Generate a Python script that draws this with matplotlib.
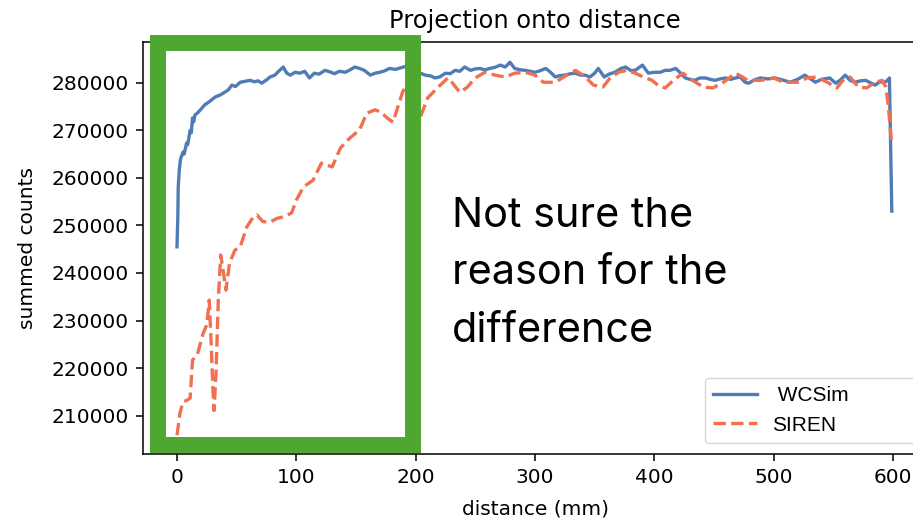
import matplotlib

matplotlib.use("Agg")
import matplotlib.pyplot as plt
from matplotlib.patches import Rectangle

# values
wcsim_x = [0, 0.7, 1, 2, 3, 5, 6, 8, 9, 11, 12, 13, 14, 15, 17, 20, 23, 27, 32, 36,
           40, 43, 46, 49, 53, 57, 61, 65, 68, 71, 75, 78, 82, 86, 89, 92, 95, 99,
           103, 107, 111, 115, 119, 124, 128, 132, 136, 141, 145, 149, 153, 157,
           162, 166, 170, 174, 178, 183, 187, 191, 195, 199, 204, 208, 213, 216,
           220, 225, 229, 233, 237, 241, 246, 250, 254, 258, 262, 266, 271, 275,
           279, 283, 288, 292, 296, 300, 304, 309, 313, 317, 321, 325, 330, 334,
           338, 342, 346, 350, 353, 358, 362, 367, 372, 376, 380, 384, 390, 395,
           400, 405, 409, 413, 418, 422, 426, 430, 434, 438, 443, 447, 451, 455,
           460, 464, 468, 472, 476, 479, 484, 489, 495, 501, 507, 514, 520, 526,
           531, 535, 540, 547, 552, 556, 560, 564, 568, 573, 577, 581, 585, 589,
           593, 596, 597, 599]
wcsim_y = [245500, 252000, 258000, 262000, 264000, 265400, 265000, 267300, 267000,
           270000, 269500, 272600, 271800, 273200, 273600, 274400, 275300, 276000,
           277000, 277400, 278000, 278500, 279500, 279200, 280100, 280300, 280500,
           280200, 280400, 279900, 280600, 281200, 281600, 282600, 283300, 282000,
           281600, 282200, 282000, 282400, 281000, 282000, 281800, 282600, 282300,
           281900, 282400, 282200, 282700, 283300, 283000, 282600, 281600, 282000,
           282200, 282500, 283000, 282800, 283100, 283400, 283200, 282900, 282000,
           281600, 281400, 281000, 281200, 282000, 281900, 282600, 282400, 283300,
           282600, 282900, 283000, 282700, 283000, 283200, 283700, 283300, 284300,
           283000, 282700, 282600, 282400, 282200, 282500, 283000, 282200, 281200,
           281500, 281600, 281900, 282000, 281600, 281600, 281200, 282000, 283000,
           281200, 281800, 282200, 283000, 283300, 282600, 282600, 283700, 282000,
           282200, 282200, 282600, 282600, 283000, 282000, 281000, 280700, 280500,
           281000, 281000, 280700, 280500, 280800, 281000, 280700, 281000, 281200,
           280100, 279900, 280600, 281000, 280800, 281000, 280600, 280100, 280700,
           281600, 280800, 280100, 280700, 281000, 279900, 280600, 281600, 280500,
           280100, 280400, 280500, 280000, 279500, 280200, 280100, 280600, 281000,
           253000]

siren_x = [0, 2.5, 5, 8, 11, 13, 17, 22, 25, 27, 28.5, 30, 31, 32.7, 34.6, 36.6, 39,
           41, 44, 48.5, 53, 58.5, 64, 67, 72, 78, 84, 89, 96, 100, 106, 114, 121,
           130, 137, 145, 153, 159, 166, 171, 176, 181, 189, 192, 197, 202, 204,
           210, 219, 227, 231, 237, 243, 250, 258, 266.5, 275, 283, 292, 300, 307,
           317, 324, 334, 340, 345, 349, 357, 363, 370, 377, 384, 391, 398, 403,
           409, 416, 424, 432, 441, 449, 458, 468, 474, 478, 489, 500, 508, 520,
           528, 536, 545, 553, 558, 564, 571, 578, 585, 591, 594, 596, 599]
siren_y = [205900, 210600, 212900, 213200, 213700, 221700, 222800, 227400, 229100,
           234300, 225900, 216000, 211100, 219000, 234300, 243800, 240000, 236400,
           242100, 244800, 245500, 249700, 251800, 252200, 250800, 250700, 251500,
           251800, 252600, 255300, 258100, 259500, 263100, 262300, 266300, 268400,
           270100, 273600, 274300, 273800, 272600, 271700, 278000, 279500, 276000,
           273000, 272800, 276800, 279100, 281000, 279900, 278000, 279000, 281000,
           282200, 281600, 281200, 282000, 282200, 281600, 280100, 280100, 281200,
           282600, 281600, 280500, 279500, 279100, 281000, 282200, 282600, 282000,
           281200, 280500, 279500, 278900, 280500, 282000, 280500, 279100, 278900,
           280100, 282000, 281200, 280500, 280500, 281000, 280100, 280100, 281000,
           281200, 280100, 278900, 280500, 281200, 279100, 278900, 280100, 280500,
           279100, 275300, 267000]

yticks = [210000, 220000, 230000, 240000, 250000, 260000, 270000, 280000]
xticks = [0, 100, 200, 300, 400, 500, 600]
note_lines = ["Not sure the", "reason for the", "difference"]

W, H = 913, 521
FS = 14.5

fig = plt.figure(figsize=(W / 100, H / 100), dpi=100)
# the right part of the axes runs past the picture edge, like the screenshot
ax = fig.add_axes([143 / W, 1 - 454 / H, 784 / W, 412 / H])

ax.plot(wcsim_x, wcsim_y, color="#4f7cb4", lw=2.4, label=" WCSim")
ax.plot(siren_x, siren_y, color="#f0704f", lw=2.4, ls="--", label="SIREN")

ax.set_xlim(-28.5, 628.5)
ax.set_ylim(201950, 288560)
ax.set_xticks(xticks)
ax.set_yticks(yticks)
ax.tick_params(labelsize=FS, length=5, width=1.1, pad=5)
for sp in ax.spines.values():
    sp.set_linewidth(1.1)

ax.set_title("Projection onto distance", fontsize=17.4, pad=10)
ax.set_xlabel("distance (mm)", fontsize=FS, labelpad=9)
ax.set_ylabel("summed counts", fontsize=FS, labelpad=10.5)

leg = ax.legend(
    loc="lower left",
    bbox_to_anchor=(705 / W, 1 - 443 / H, 0.32, 66 / H),
    bbox_transform=fig.transFigure,
    mode="expand",
    borderaxespad=0,
    handlelength=2.1,
    handletextpad=0.7,
    prop={"family": "Liberation Sans", "size": 15},
)

# green highlight box drawn on top of the figure
box = Rectangle(
    (158 / W, 1 - 444.5 / H),
    255 / W,
    401.5 / H,
    transform=fig.transFigure,
    fill=False,
    edgecolor="#4ea72e",
    lw=11.5,
    joinstyle="miter",
    zorder=10,
)
fig.patches.append(box)

for i, line in enumerate(note_lines):
    fig.text(452 / W, 1 - (227 + 57.5 * i) / H, line, fontsize=29.8,
             family="Inter", va="baseline", ha="left")

fig.savefig("out.png", dpi=100)
plt.close(fig)
